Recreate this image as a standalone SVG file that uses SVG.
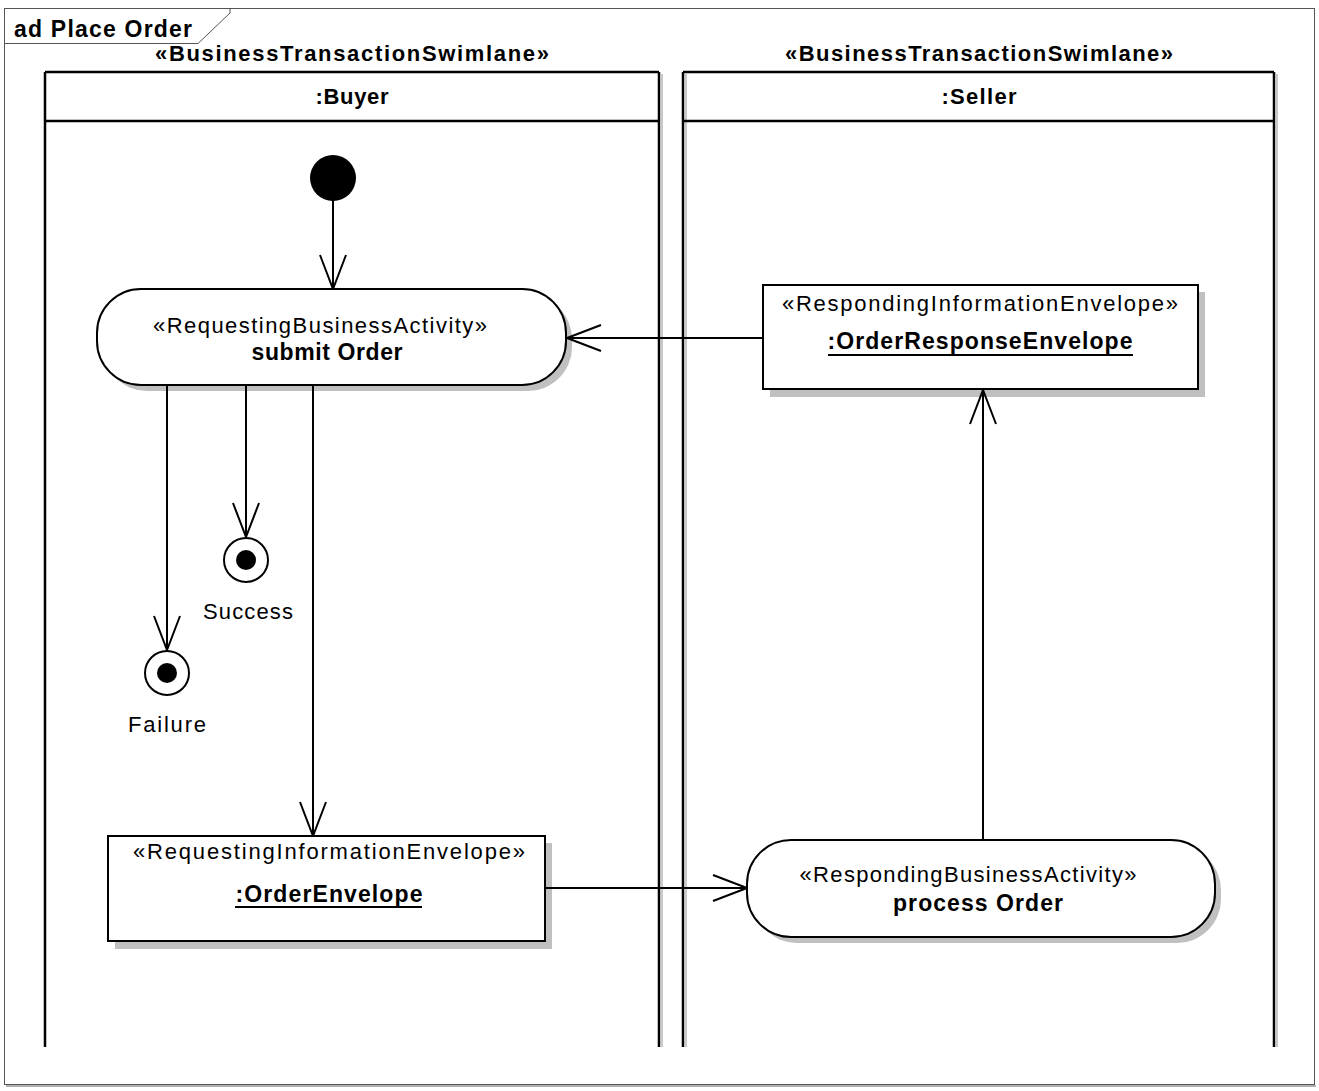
<svg xmlns="http://www.w3.org/2000/svg" width="1319" height="1091" viewBox="0 0 1319 1091">
  <style>
    text { font-family: "Liberation Sans", Arial, sans-serif; fill: #000; }
    .bold { font-weight: bold; }
    .st { font-size: 22px; }
    .nm { font-size: 23px; font-weight: bold; }
    .lbl { font-size: 22px; }
    .node { fill: #fff; stroke: #000; stroke-width: 2; }
    .shadow { fill: #c0c0c0; stroke: none; }
    .lane { fill: none; stroke: #000; stroke-width: 2.5; }
    .laneShadow { fill: none; stroke: #c8c8c8; stroke-width: 2; }
    .flow { fill: none; stroke: #000; stroke-width: 2; }
  </style>
  <defs>
    <marker id="open" viewBox="0 0 36 28" refX="35" refY="14" markerWidth="36" markerHeight="28" markerUnits="userSpaceOnUse" orient="auto">
      <path d="M1,1 L35,14 L1,27" fill="none" stroke="#000" stroke-width="2"/>
    </marker>
  </defs>

  <rect width="1319" height="1091" fill="#fff"/>

  <!-- diagram frame -->
  <g id="frame">
    <line x1="6" y1="1086" x2="1316" y2="1086" stroke="#b0b0b0" stroke-width="2"/>
    <rect x="4.5" y="8.5" width="1310" height="1076" fill="none" stroke="#555" stroke-width="1"/>
    <path d="M4.5,43.5 H198 L230,13 V8.5" fill="none" stroke="#555" stroke-width="1"/>
    <text x="14" y="37" class="bold" font-size="23" textLength="178" lengthAdjust="spacing">ad Place Order</text>
  </g>

  <!-- swimlanes -->
  <g id="lane-buyer">
    <line x1="662" y1="74" x2="662" y2="1047" class="laneShadow"/>
    <line x1="1277" y1="74" x2="1277" y2="1047" class="laneShadow"/>
    <line x1="45" y1="72" x2="45" y2="1047" class="lane"/>
    <line x1="659" y1="72" x2="659" y2="1047" class="lane"/>
    <line x1="45" y1="72" x2="659" y2="72" class="lane"/>
    <line x1="45" y1="121" x2="659" y2="121" class="lane"/>
    <text x="352" y="61" class="bold" font-size="22" text-anchor="middle" textLength="394" lengthAdjust="spacing">«BusinessTransactionSwimlane»</text>
    <text x="352" y="104" class="bold" font-size="22" text-anchor="middle" textLength="73" lengthAdjust="spacing">:Buyer</text>
  </g>
  <g id="lane-seller">
    <line x1="686" y1="74" x2="686" y2="1047" class="laneShadow"/>
    <line x1="683" y1="72" x2="683" y2="1047" class="lane"/>
    <line x1="1274" y1="72" x2="1274" y2="1047" class="lane"/>
    <line x1="683" y1="72" x2="1274" y2="72" class="lane"/>
    <line x1="683" y1="121" x2="1274" y2="121" class="lane"/>
    <text x="979" y="61" class="bold" font-size="22" text-anchor="middle" textLength="388" lengthAdjust="spacing">«BusinessTransactionSwimlane»</text>
    <text x="979" y="104" class="bold" font-size="22" text-anchor="middle" textLength="75" lengthAdjust="spacing">:Seller</text>
  </g>

  <!-- initial node -->
  <g id="initial">
    <circle cx="333" cy="178" r="23" fill="#000"/>
  </g>

  <!-- submit Order -->
  <g id="submit-order">
    <rect x="103" y="295" width="469" height="96" rx="44" class="shadow"/>
    <rect x="97" y="289" width="469" height="96" rx="44" class="node"/>
    <text x="320" y="333" class="st" text-anchor="middle" textLength="334" lengthAdjust="spacing">«RequestingBusinessActivity»</text>
    <text x="327" y="360" class="nm" text-anchor="middle" textLength="151" lengthAdjust="spacing">submit Order</text>
  </g>

  <!-- final nodes -->
  <g id="success">
    <circle cx="246" cy="560" r="22" fill="#fff" stroke="#000" stroke-width="2"/>
    <circle cx="246" cy="560" r="10" fill="#000"/>
    <text x="248" y="619" class="lbl" text-anchor="middle" textLength="90" lengthAdjust="spacing">Success</text>
  </g>
  <g id="failure">
    <circle cx="167" cy="673" r="22" fill="#fff" stroke="#000" stroke-width="2"/>
    <circle cx="167" cy="673" r="10" fill="#000"/>
    <text x="167" y="732" class="lbl" text-anchor="middle" textLength="78" lengthAdjust="spacing">Failure</text>
  </g>

  <!-- :OrderEnvelope -->
  <g id="order-envelope">
    <rect x="115" y="843" width="437" height="106" class="shadow"/>
    <rect x="108" y="836" width="437" height="105" class="node"/>
    <text x="329" y="859" class="st" text-anchor="middle" textLength="392" lengthAdjust="spacing">«RequestingInformationEnvelope»</text>
    <text x="329" y="902" class="nm" text-anchor="middle" textLength="187" lengthAdjust="spacing">:OrderEnvelope</text>
    <line x1="235" y1="907" x2="422" y2="907" stroke="#000" stroke-width="2"/>
  </g>

  <!-- process Order -->
  <g id="process-order">
    <rect x="753" y="846" width="468" height="97" rx="44" class="shadow"/>
    <rect x="747" y="840" width="468" height="97" rx="44" class="node"/>
    <text x="968" y="882" class="st" text-anchor="middle" textLength="337" lengthAdjust="spacing">«RespondingBusinessActivity»</text>
    <text x="978" y="911" class="nm" text-anchor="middle" textLength="170" lengthAdjust="spacing">process Order</text>
  </g>

  <!-- :OrderResponseEnvelope -->
  <g id="order-response-envelope">
    <rect x="770" y="292" width="435" height="105" class="shadow"/>
    <rect x="763" y="285" width="435" height="104" class="node"/>
    <text x="980" y="311" class="st" text-anchor="middle" textLength="396" lengthAdjust="spacing">«RespondingInformationEnvelope»</text>
    <text x="980" y="349" class="nm" text-anchor="middle" textLength="305" lengthAdjust="spacing">:OrderResponseEnvelope</text>
    <line x1="828" y1="355" x2="1133" y2="355" stroke="#000" stroke-width="2"/>
  </g>

  <!-- connectors -->
  <g id="connectors">
    <line x1="333" y1="200" x2="333" y2="289" class="flow" marker-end="url(#open)"/>
    <line x1="167" y1="386" x2="167" y2="650" class="flow" marker-end="url(#open)"/>
    <line x1="246" y1="386" x2="246" y2="537" class="flow" marker-end="url(#open)"/>
    <line x1="313" y1="386" x2="313" y2="836" class="flow" marker-end="url(#open)"/>
    <line x1="546" y1="888" x2="747" y2="888" class="flow" marker-end="url(#open)"/>
    <line x1="983" y1="840" x2="983" y2="390" class="flow" marker-end="url(#open)"/>
    <line x1="762" y1="338" x2="567" y2="338" class="flow" marker-end="url(#open)"/>
  </g>
</svg>
